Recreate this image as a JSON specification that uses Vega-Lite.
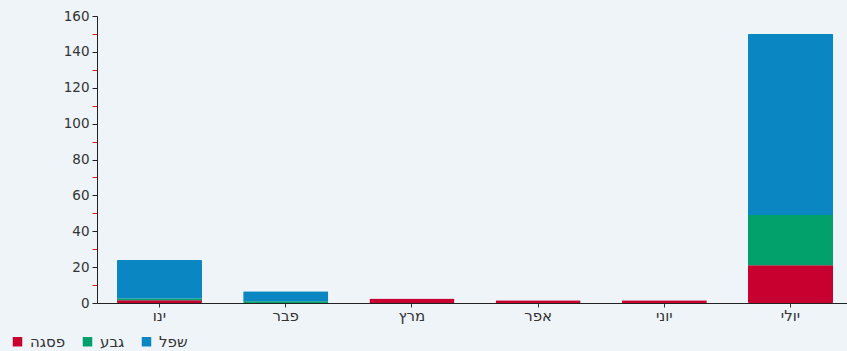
{
  "$schema": "https://vega.github.io/schema/vega-lite/v6.json",
  "autosize": {"type": "none"},
  "width": 756,
  "height": 287,
  "padding": {"left": 97, "top": 16, "right": 0, "bottom": 48},
  "background": "#eef4f8",
  "config": {
    "view": {"stroke": null},
    "font": "DejaVu Sans"
  },
  "data": {
    "values": [
      {"month": "ינו", "series": "פסגה", "k": 1, "value": 1.5},
      {"month": "ינו", "series": "גבע", "k": 2, "value": 1},
      {"month": "ינו", "series": "שפל", "k": 3, "value": 21.5},
      {"month": "פבר", "series": "פסגה", "k": 1, "value": 0},
      {"month": "פבר", "series": "גבע", "k": 2, "value": 1},
      {"month": "פבר", "series": "שפל", "k": 3, "value": 5.5},
      {"month": "מרץ", "series": "פסגה", "k": 1, "value": 2.5},
      {"month": "מרץ", "series": "גבע", "k": 2, "value": 0},
      {"month": "מרץ", "series": "שפל", "k": 3, "value": 0},
      {"month": "אפר", "series": "פסגה", "k": 1, "value": 1.5},
      {"month": "אפר", "series": "גבע", "k": 2, "value": 0},
      {"month": "אפר", "series": "שפל", "k": 3, "value": 0},
      {"month": "יוני", "series": "פסגה", "k": 1, "value": 1.5},
      {"month": "יוני", "series": "גבע", "k": 2, "value": 0},
      {"month": "יוני", "series": "שפל", "k": 3, "value": 0},
      {"month": "יולי", "series": "פסגה", "k": 1, "value": 21},
      {"month": "יולי", "series": "גבע", "k": 2, "value": 28},
      {"month": "יולי", "series": "שפל", "k": 3, "value": 101}
    ]
  },
  "mark": {"type": "bar", "cornerRadius": 1},
  "encoding": {
    "x": {
      "field": "month",
      "type": "nominal",
      "sort": null,
      "scale": {"paddingInner": 0.326, "paddingOuter": 0.158},
      "axis": {
        "title": null,
        "labelAngle": 0,
        "labelFontSize": 15,
        "labelColor": "#333333",
        "labelPadding": 1,
        "tickColor": "#333333",
        "tickSize": 4,
        "domainColor": "#222222",
        "domainWidth": 1
      }
    },
    "y": {
      "field": "value",
      "type": "quantitative",
      "stack": "zero",
      "scale": {"domain": [0, 160], "nice": false},
      "axis": {
        "title": null,
        "grid": false,
        "values": [0, 10, 20, 30, 40, 50, 60, 70, 80, 90, 100, 110, 120, 130, 140, 150, 160],
        "labelExpr": "datum.value % 20 == 0 ? datum.label : ''",
        "labelFontSize": 13.5,
        "labelColor": "#333333",
        "labelPadding": 3,
        "tickColor": {"condition": {"test": "datum.value % 20 != 0", "value": "#e8141c"}, "value": "#222222"},
        "tickSize": 5,
        "domainColor": "#222222"
      }
    },
    "color": {
      "field": "series",
      "type": "nominal",
      "scale": {
        "domain": ["פסגה", "גבע", "שפל"],
        "range": ["#c70030", "#02a06a", "#0a86c2"]
      },
      "legend": {
        "title": null,
        "orient": "none",
        "legendX": -87,
        "legendY": 318,
        "direction": "horizontal",
        "symbolType": "square",
        "symbolSize": 90,
        "symbolStrokeWidth": 0,
        "labelFontSize": 15,
        "labelColor": "#333333",
        "columnPadding": 14,
        "labelOffset": 5
      }
    },
    "order": {"field": "k", "type": "quantitative"}
  }
}
